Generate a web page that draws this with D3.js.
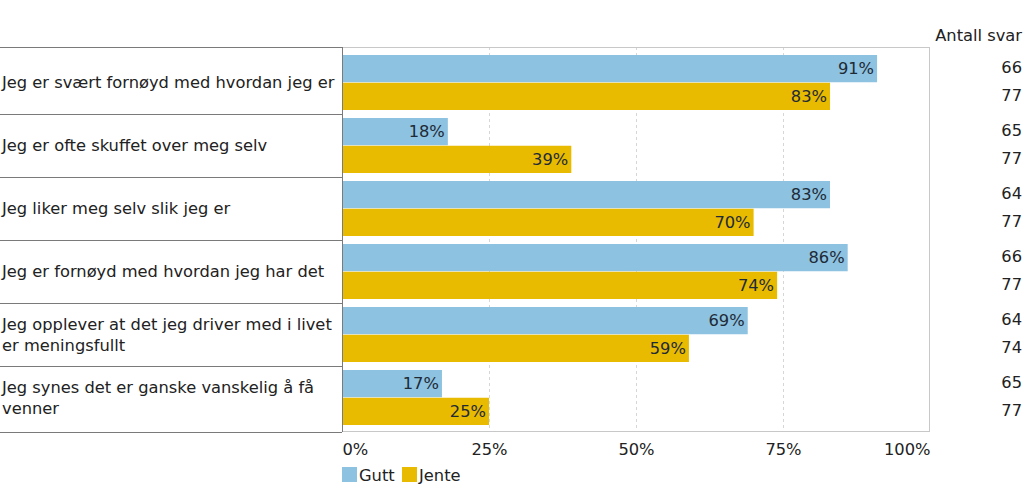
<!DOCTYPE html>
<html>
<head>
<meta charset="utf-8">
<script src="https://cdn.jsdelivr.net/npm/d3@7"></script>
<style>
html,body{margin:0;padding:0;background:#fff;}
svg{display:block;font-family:"DejaVu Sans",Verdana,sans-serif;}
</style>
</head>
<body>
<svg id="chart" width="1024" height="487"></svg>
<script>
const categories = [
  ["Jeg er svært fornøyd med hvordan jeg er"],
  ["Jeg er ofte skuffet over meg selv"],
  ["Jeg liker meg selv slik jeg er"],
  ["Jeg er fornøyd med hvordan jeg har det"],
  ["Jeg opplever at det jeg driver med i livet", "er meningsfullt"],
  ["Jeg synes det er ganske vanskelig å få", "venner"]
];
const seriesNames = ["Gutt", "Jente"];
const gutt = [91, 18, 83, 86, 69, 17];
const jente = [83, 39, 70, 74, 59, 25];
const guttN = [66, 65, 64, 66, 64, 65];
const jenteN = [77, 77, 77, 77, 74, 77];
const ticks = [0, 25, 50, 75, 100];
const colors = ["#8dc2e0", "#e8ba00"];
const countHeader = "Antall svar";

const svg = d3.select("#chart");
const pLeft = 342, pRight = 930, pTop = 47, pBottom = 432;
const bandTop = 51, bandBottom = 429;
const fs = 16.3;

const x = d3.scaleLinear().domain([0, 100]).range([pLeft, pRight]);
const y = d3.scaleBand().domain(d3.range(categories.length)).range([bandTop, bandBottom]).paddingInner(8/63).paddingOuter(4/63);
const sub = d3.scaleBand().domain([0, 1]).range([0, y.bandwidth()]).paddingInner(1/55);

// gridlines
svg.append("g").selectAll("line").data(ticks.slice(1, -1)).join("line")
  .attr("x1", d => Math.round(x(d)) + 0.5).attr("x2", d => Math.round(x(d)) + 0.5)
  .attr("y1", pTop).attr("y2", pBottom)
  .attr("stroke", "#d6d6d6").attr("stroke-dasharray", "3,3").attr("stroke-width", 1);

// plot frame
svg.append("rect").attr("x", pLeft + 0.5).attr("y", pTop + 0.5)
  .attr("width", pRight - pLeft - 1).attr("height", pBottom - pTop - 1)
  .attr("fill", "none").attr("stroke", "#c8c8c8");

// table lines on left
const boundaries = [pTop];
for (let i = 1; i < categories.length; i++) boundaries.push(y(i) - y.step() * y.paddingInner() / 2);
boundaries.push(pBottom);
svg.append("g").selectAll("line").data(boundaries).join("line")
  .attr("x1", 0).attr("x2", pLeft)
  .attr("y1", d => Math.round(d) + 0.5).attr("y2", d => Math.round(d) + 0.5)
  .attr("stroke", "#7a7a7a").attr("stroke-width", 1);
svg.append("line").attr("x1", pLeft + 0.5).attr("x2", pLeft + 0.5).attr("y1", pTop).attr("y2", pBottom)
  .attr("stroke", "#7a7a7a");

// bars
const data = [gutt, jente];
const counts = [guttN, jenteN];
data.forEach((arr, si) => {
  const g = svg.append("g");
  g.selectAll("rect").data(arr).join("rect")
    .attr("x", x(0) + 1)
    .attr("y", (d, i) => y(i) + sub(si))
    .attr("width", d => x(d) - x(0) - 1)
    .attr("height", sub.bandwidth())
    .attr("fill", colors[si]);
  g.selectAll("text.val").data(arr).join("text").attr("class", "val")
    .attr("x", d => x(d) - 3)
    .attr("y", (d, i) => y(i) + sub(si) + sub.bandwidth() / 2)
    .attr("dy", "0.35em")
    .attr("text-anchor", "end")
    .attr("font-size", fs)
    .attr("fill", "#1e2a36")
    .text(d => d + "%");
  g.selectAll("text.cnt").data(counts[si]).join("text").attr("class", "cnt")
    .attr("x", 1022)
    .attr("y", (d, i) => y(i) + sub(si) + sub.bandwidth() / 2 - 1)
    .attr("dy", "0.35em")
    .attr("text-anchor", "end")
    .attr("font-size", fs)
    .attr("fill", "#222")
    .text(d => d);
});

// category labels
categories.forEach((lines, i) => {
  const cy = y(i) + y.bandwidth() / 2;
  const lh = 21;
  const t = svg.append("text").attr("font-size", fs).attr("fill", "#222");
  lines.forEach((ln, j) => {
    t.append("tspan").attr("x", 2)
      .attr("y", cy + (j - (lines.length - 1) / 2) * lh)
      .attr("dy", "0.35em").text(ln);
  });
});

// header
svg.append("text").attr("x", 1022).attr("y", 35).attr("dy", "0.35em")
  .attr("text-anchor", "end").attr("font-size", fs).attr("fill", "#222").text(countHeader);

// x axis
const axis = d3.axisBottom(x).tickValues(ticks).tickFormat(d => d + "%").tickSize(0).tickPadding(0);
const ax = svg.append("g").attr("transform", `translate(0,449)`).call(axis);
ax.select(".domain").remove();
ax.selectAll("text").attr("font-size", fs).attr("fill", "#222").attr("font-family", "DejaVu Sans, Verdana, sans-serif")
  .attr("dy", "0.35em").attr("y", 0)
  .attr("text-anchor", (d, i) => i === 0 ? "start" : (i === ticks.length - 1 ? "end" : "middle"));

// legend
const legendX = [342, 402];
seriesNames.forEach((name, i) => {
  svg.append("rect").attr("x", legendX[i]).attr("y", 467).attr("width", 15).attr("height", 15).attr("fill", colors[i]);
  svg.append("text").attr("x", legendX[i] + 17).attr("y", 475).attr("dy", "0.35em")
    .attr("font-size", fs).attr("fill", "#222").text(name);
});
</script>
</body>
</html>
